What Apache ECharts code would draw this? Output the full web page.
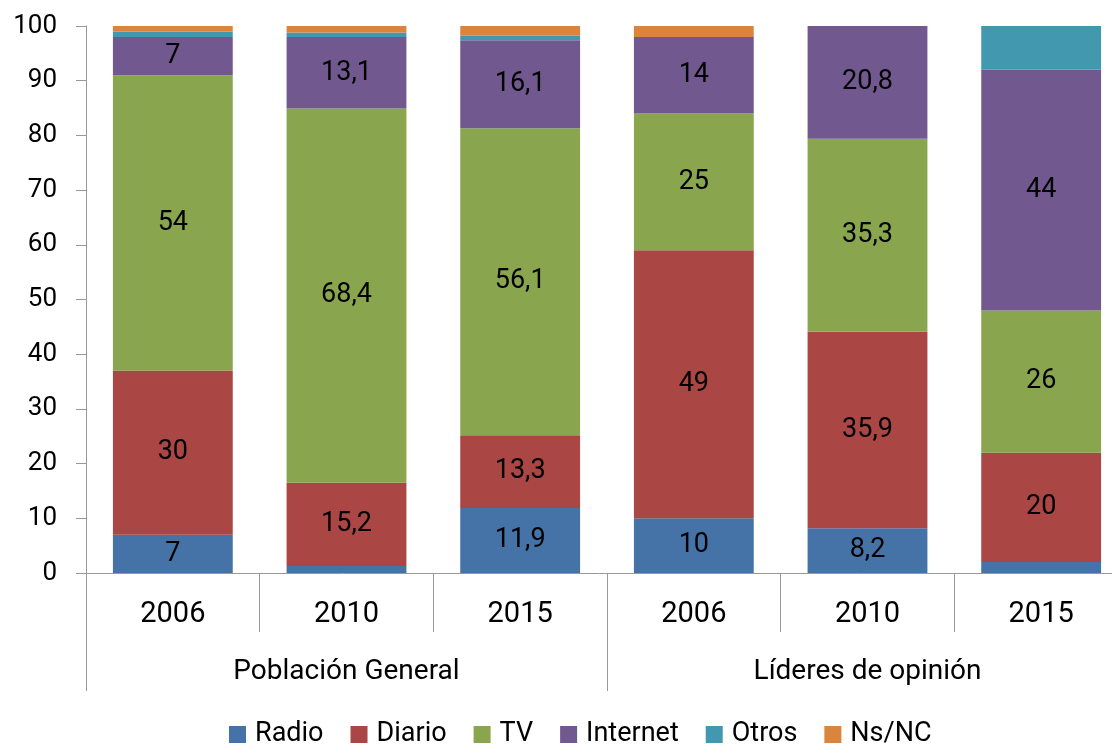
<!DOCTYPE html>
<html>
<head>
<meta charset="utf-8">
<script src="https://cdn.jsdelivr.net/npm/echarts@6/dist/echarts.min.js"></script>
<style>
html,body{margin:0;padding:0;background:#fff;}
#c{width:1112px;height:744px;}
</style>
</head>
<body>
<div id="c"></div>
<script>
const categories = ['2006', '2010', '2015', '2006', '2010', '2015'];
const groups = ['Población General', 'Líderes de opinión'];
const seriesNames = ['Radio', 'Diario', 'TV', 'Internet', 'Otros', 'Ns/NC'];
const radio = [7, 1.3, 11.9, 10, 8.2, 2];
const diario = [30, 15.2, 13.3, 49, 35.9, 20];
const tv = [54, 68.4, 56.1, 25, 35.3, 26];
const internet = [7, 13.1, 16.1, 14, 20.8, 44];
const otros = [1, 0.8, 0.8, 0, 0, 8];
const nsnc = [1, 1.2, 1.8, 2, 0, 0];
const radioLabelShown = [true, false, true, true, true, false];
const yTicks = [0, 10, 20, 30, 40, 50, 60, 70, 80, 90, 100];

const colors = ['#4572A7', '#AA4643', '#89A54E', '#71588F', '#4198AF', '#DB843D'];
const FONT = 'Roboto';

function mkData(vals, shown) {
  return vals.map((v, i) => ({
    value: v,
    label: { show: shown ? shown[i] : false }
  }));
}
const allShown = categories.map(() => true);
const values = [radio, diario, tv, internet, otros, nsnc];
const shows = [radioLabelShown, allShown, allShown, allShown, null, null];

const chart = echarts.init(document.getElementById('c'), null, { renderer: 'canvas' });
chart.setOption({
  animation: false,
  color: colors,
  textStyle: { fontFamily: FONT },
  grid: { left: 86, top: 26, width: 1042, height: 547, containLabel: false, outerBoundsMode: 'none' },
  legend: {
    data: seriesNames,
    left: 229,
    top: 721,
    padding: 0,
    itemWidth: 17,
    itemHeight: 17,
    itemGap: 27,
    icon: 'rect',
    textStyle: { fontSize: 27, color: '#000', fontFamily: FONT, padding: [0, 0, 0, 4] }
  },
  xAxis: [
    {
      type: 'category',
      data: categories,
      position: 'bottom',
      axisLine: { show: true, lineStyle: { color: '#999', width: 1 } },
      axisTick: { show: true, interval: 0, alignWithLabel: false, length: 59, lineStyle: { color: '#999' } },
      axisLabel: { interval: 0, margin: 27, fontSize: 29, color: '#000', fontFamily: FONT }
    },
    {
      type: 'category',
      data: groups,
      position: 'bottom',
      axisLine: { show: false },
      axisTick: { show: true, interval: 0, alignWithLabel: false, length: 118, lineStyle: { color: '#999' } },
      axisLabel: { interval: 0, margin: 85, fontSize: 28, color: '#000', fontFamily: FONT }
    }
  ],
  yAxis: {
    type: 'value',
    min: 0,
    max: 100,
    interval: 10,
    splitLine: { show: false },
    axisLine: { show: true, lineStyle: { color: '#999' } },
    axisTick: { show: true, length: 10, lineStyle: { color: '#999' } },
    axisLabel: { margin: 29, fontSize: 26, color: '#000', fontFamily: FONT }
  },
  series: seriesNames.map((name, k) => ({
    name: name,
    type: 'bar',
    stack: 'total',
    xAxisIndex: 0,
    barWidth: '69%',
    data: mkData(values[k], shows[k]),
    label: {
      position: 'inside',
      fontSize: 27,
      color: '#000',
      fontFamily: FONT,
      formatter: p => String(p.value).replace('.', ',')
    }
  }))
});
</script>
</body>
</html>
